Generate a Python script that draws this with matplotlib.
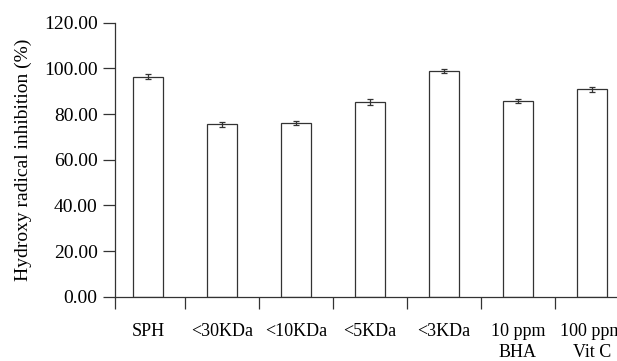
import matplotlib.pyplot as plt
import numpy as np

categories = ['SPH', '<30KDa', '<10KDa', '<5KDa', '<3KDa', '10 ppm\nBHA', '100 ppm\nVit C']
values = [96.4, 75.5, 76.2, 85.3, 98.7, 85.6, 90.8]
errors = [1.1, 1.1, 0.9, 1.5, 0.9, 0.8, 1.0]

plt.rcParams['font.family'] = ['Liberation Serif', 'DejaVu Serif']

fig = plt.figure(figsize=(6.17, 3.61), dpi=100)
ax = fig.add_axes([0.1864, 0.1776, 0.8136, 0.7595])

x = np.arange(len(categories))
ax.bar(x, values, width=0.4, color='white', edgecolor='#333333', linewidth=0.9,
       yerr=errors, capsize=2.5, error_kw={'elinewidth': 0.9, 'capthick': 0.9, 'ecolor': '#333333'})

left = -0.45
ax.set_xlim(left, 6.34)
ax.set_ylim(0, 120)
ax.set_yticks(np.arange(0, 121, 20))
ax.set_yticklabels(['%.2f' % v for v in np.arange(0, 121, 20)], fontsize=14)

ax.set_xticks([left] + list(x[:-1] + 0.5))
ax.set_xticklabels([])
ax.set_xticks(x, minor=True)
ax.set_xticklabels(categories, minor=True, fontsize=13, linespacing=1.3)
ax.tick_params(axis='x', which='minor', length=0, pad=19)
ax.tick_params(axis='both', which='major', length=8.5, width=0.9, color='#333333')
ax.tick_params(axis='y', pad=4)

for s in ['top', 'right']:
    ax.spines[s].set_visible(False)
for s in ['left', 'bottom']:
    ax.spines[s].set_linewidth(0.9)
    ax.spines[s].set_color('#333333')

ax.set_ylabel('Hydroxy radical inhibition (%)', fontsize=14)
ax.yaxis.set_label_coords(-0.165, 0.5)

fig.savefig('out.png', dpi=100)
